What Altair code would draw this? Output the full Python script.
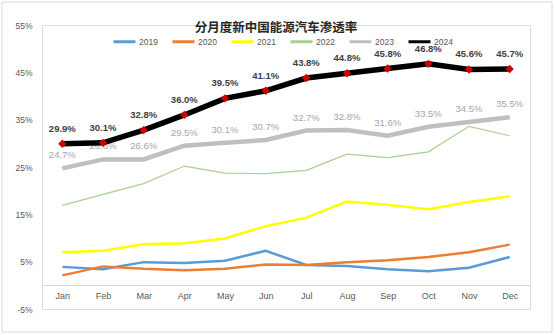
import altair as alt
import pandas as pd

months = ["Jan", "Feb", "Mar", "Apr", "May", "Jun", "Jul", "Aug", "Sep", "Oct", "Nov", "Dec"]
years = ["2019", "2020", "2021", "2022", "2023", "2024"]

s2019 = [3.9, 3.4, 4.9, 4.7, 5.2, 7.3, 4.3, 4.1, 3.4, 3.0, 3.7, 6.0]
s2020 = [2.1, 4.0, 3.5, 3.2, 3.5, 4.4, 4.3, 4.9, 5.3, 6.0, 7.0, 8.6]
s2021 = [7.0, 7.3, 8.7, 8.9, 9.9, 12.5, 14.3, 17.7, 17.0, 16.1, 17.6, 18.8]
s2022 = [16.9, 19.2, 21.5, 25.2, 23.7, 23.6, 24.3, 27.7, 27.0, 28.2, 33.6, 31.6]
s2023 = [24.7, 26.6, 26.6, 29.5, 30.1, 30.7, 32.7, 32.8, 31.6, 33.5, 34.5, 35.5]
s2024 = [29.9, 30.1, 32.8, 36.0, 39.5, 41.1, 43.8, 44.8, 45.8, 46.8, 45.6, 45.7]

series = [s2019, s2020, s2021, s2022, s2023, s2024]
rows = []
for y, vals in zip(years, series):
    for m, v in zip(months, vals):
        rows.append({"month": m, "year": y, "value": v})
df = pd.DataFrame(rows)

colors = ["#5B9BD5", "#ED7D31", "#FFFF00", "#A9D18E", "#BFBFBF", "#000000"]
widths = [2.5, 2.5, 2.5, 1.2, 4.5, 5.5]

FONT = "Liberation Sans"

xenc = alt.X("month:N", sort=months, scale=alt.Scale(type="point", padding=0.5),
             axis=alt.Axis(title=None, orient="bottom", offset=-24, domainColor="#D9D9D9",
                           domainWidth=1, ticks=False, labelPadding=6, labelFontSize=9,
                           labelColor="#595959", labelFont=FONT, labelAngle=0))
xplain = alt.X("month:N", sort=months)
yenc = alt.Y("value:Q", scale=alt.Scale(domain=[-5, 55], nice=False, zero=False),
             axis=alt.Axis(title=None, values=[-5, 5, 15, 25, 35, 45, 55], domain=False,
                           ticks=False, grid=False, labelExpr="datum.value + '%'",
                           labelFontSize=8.5, labelColor="#595959", labelFont=FONT,
                           labelPadding=10))

base = alt.Chart(df)

legend = alt.Legend(title=None, orient="none", legendX=70, legendY=4, direction="horizontal",
                    symbolType="stroke", symbolSize=484, symbolStrokeWidth=3,
                    labelFontSize=8.5, labelColor="#595959",
                    labelFont=FONT, labelOffset=2, columnPadding=8, symbolOpacity=1)

# invisible layer that only provides the legend
legend_layer = base.mark_line(opacity=0).encode(
    x=xenc, y=yenc,
    color=alt.Color("year:N", scale=alt.Scale(domain=years, range=colors), legend=legend),
)

line_layers = []
for yr, c, w in zip(years, colors, widths):
    line_layers.append(
        base.transform_filter(alt.datum.year == yr).mark_line(color=c, strokeWidth=w)
        .encode(x=xplain, y="value:Q")
    )

pts = base.transform_filter("datum.year == '2024'").mark_point(
    shape="diamond", filled=True, color="#D00000", size=70, opacity=1
).encode(x=xplain, y="value:Q")

lab23 = base.transform_filter("datum.year == '2023'").transform_calculate(
    lbl="format(datum.value, '.1f') + '%'"
).mark_text(dy=-13, fontSize=9.5, color="#A6A6A6", font=FONT).encode(
    x=xplain, y="value:Q", text="lbl:N")

lab24 = base.transform_filter("datum.year == '2024'").transform_calculate(
    lbl="format(datum.value, '.1f') + '%'"
).mark_text(dy=-15, fontSize=9.5, fontWeight="bold", color="#404040", font=FONT).encode(
    x=xplain, y="value:Q", text="lbl:N")

border = alt.Chart(pd.DataFrame({"a": [0]})).mark_rect(
    fill=None, stroke="#D9D9D9", strokeWidth=1
).encode(x=alt.value(-40), x2=alt.value(510), y=alt.value(-23), y2=alt.value(307))

chart = alt.layer(border, legend_layer, *line_layers[:5], lab23, line_layers[5], pts, lab24).properties(
    width=488, height=284,
    title=alt.TitleParams("分月度新中国能源汽车渗透率", font="Noto Sans CJK SC", fontSize=12.5,
                          fontWeight="bold", color="#262626", anchor="middle", dx=-10,
                          offset=-13, dy=20),
    autosize=alt.AutoSizeParams(type="none"),
    padding={"left": 42, "top": 25, "right": 25, "bottom": 26},
).configure_view(stroke=None).configure(background="white")

chart.save("out.html", embed_options={"renderer": "svg", "actions": False})
